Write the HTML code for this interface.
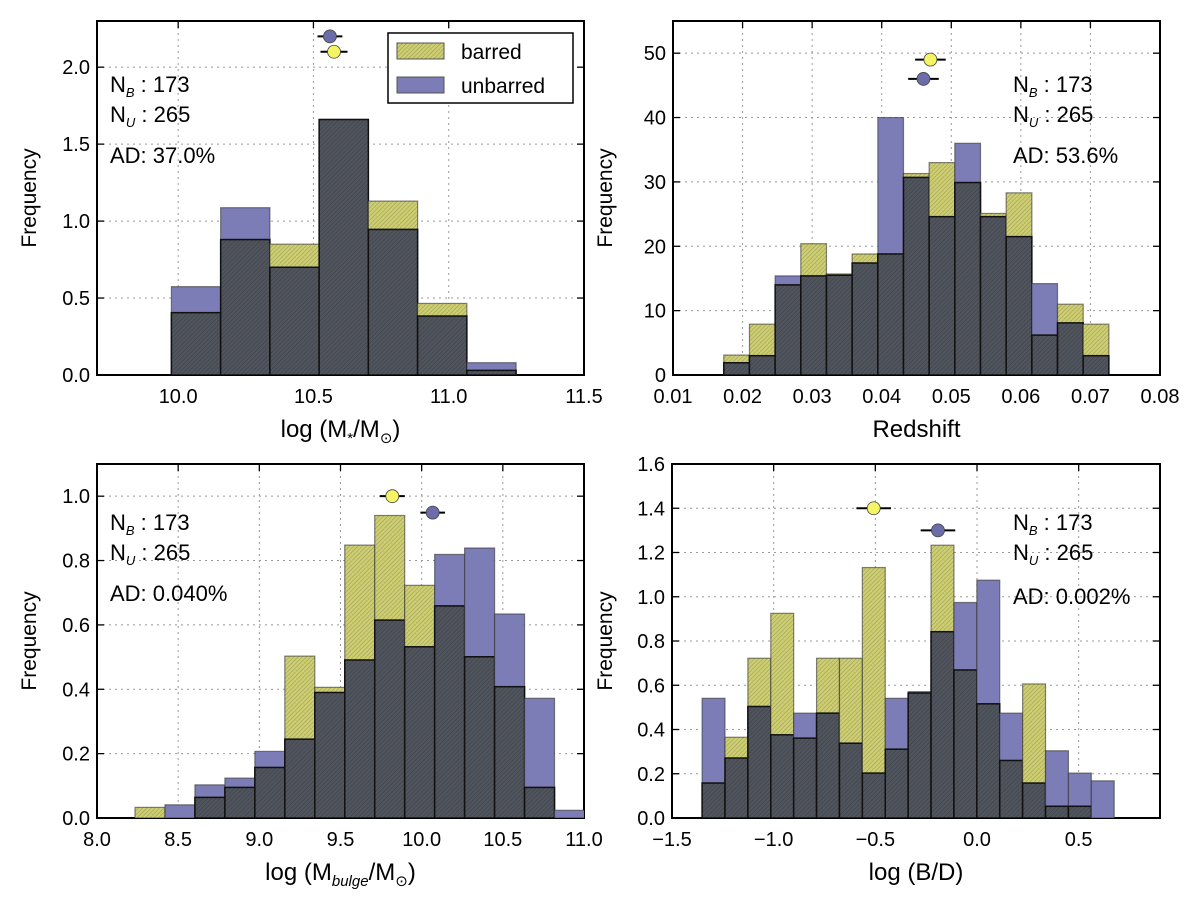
<!DOCTYPE html>
<html><head><meta charset="utf-8"><style>
html,body{margin:0;padding:0;background:#fff;}
svg{display:block;font-family:"Liberation Sans","DejaVu Sans",sans-serif;}
</style></head><body>
<svg id="fig" width="1200" height="910" viewBox="0 0 1200 910" xmlns="http://www.w3.org/2000/svg">
<defs>
<pattern id="hatch" patternUnits="userSpaceOnUse" width="3" height="3" patternTransform="rotate(45)">
<line x1="0" y1="0" x2="0" y2="3" stroke="#000" stroke-opacity="0.25" stroke-width="1"/>
</pattern>
</defs>
</svg>
<script>
// Panel 1: stellar mass
const p1Edges0 = 9.975, p1Width = 0.182;
const p1Barred = [0.405, 0.88, 0.85, 1.66, 1.13, 0.465, 0.03];
const p1Unbarred = [0.574, 1.087, 0.70, 1.66, 0.946, 0.383, 0.08];
const p1XTicks = [10.0, 10.5, 11.0, 11.5];
const p1XTickLabels = ["10.0", "10.5", "11.0", "11.5"];
const p1YTicks = [0, 0.5, 1.0, 1.5, 2.0];
const p1YTickLabels = ["0.0", "0.5", "1.0", "1.5", "2.0"];
const p1Markers = [[10.561, 2.2, 0.046, "unbarred"], [10.576, 2.1, 0.05, "barred"]];
const p1Text = ["173", "265", "AD: 37.0%"];

// Panel 2: redshift
const p2Edges0 = 0.0173, p2Width = 0.00369;
const p2Barred = [3.1, 7.9, 14.0, 20.4, 15.7, 18.8, 18.8, 31.3, 33.0, 29.9, 25.1, 28.3, 6.2, 11.0, 7.9];
const p2Unbarred = [1.9, 3.0, 15.4, 15.4, 15.5, 17.4, 40.0, 30.7, 24.6, 36.0, 24.6, 21.5, 14.2, 8.1, 3.0];
const p2XTicks = [0.01, 0.02, 0.03, 0.04, 0.05, 0.06, 0.07, 0.08];
const p2XTickLabels = ["0.01", "0.02", "0.03", "0.04", "0.05", "0.06", "0.07", "0.08"];
const p2YTicks = [0, 10, 20, 30, 40, 50];
const p2YTickLabels = ["0", "10", "20", "30", "40", "50"];
const p2Markers = [[0.047, 49, 0.0022, "barred"], [0.046, 46, 0.0022, "unbarred"]];
const p2Text = ["173", "265", "AD: 53.6%"];

// Panel 3: bulge mass
const p3Edges0 = 8.234, p3Width = 0.1846;
const p3Barred = [0.033, 0, 0.064, 0.095, 0.157, 0.503, 0.406, 0.848, 0.94, 0.723, 0.659, 0.501, 0.408, 0.095, 0];
const p3Unbarred = [0, 0.041, 0.103, 0.124, 0.207, 0.245, 0.39, 0.491, 0.615, 0.532, 0.819, 0.839, 0.634, 0.372, 0.024];
const p3XTicks = [8.0, 8.5, 9.0, 9.5, 10.0, 10.5, 11.0];
const p3XTickLabels = ["8.0", "8.5", "9.0", "9.5", "10.0", "10.5", "11.0"];
const p3YTicks = [0, 0.2, 0.4, 0.6, 0.8, 1.0];
const p3YTickLabels = ["0.0", "0.2", "0.4", "0.6", "0.8", "1.0"];
const p3Markers = [[9.819, 1.0, 0.077, "barred"], [10.068, 0.949, 0.076, "unbarred"]];
const p3Text = ["173", "265", "AD: 0.040%"];

// Panel 4: B/D
const p4Edges0 = -1.352, p4Width = 0.1126;
const p4Barred = [0.158, 0.365, 0.722, 0.925, 0.361, 0.722, 0.722, 1.132, 0.311, 0.565, 1.233, 0.669, 0.516, 0.26, 0.606, 0.053, 0.053, 0];
const p4Unbarred = [0.541, 0.271, 0.504, 0.376, 0.474, 0.474, 0.338, 0.203, 0.541, 0.571, 0.842, 0.974, 1.075, 0.474, 0.158, 0.304, 0.203, 0.168];
const p4XTicks = [-1.5, -1.0, -0.5, 0.0, 0.5];
const p4XTickLabels = ["\u22121.5", "\u22121.0", "\u22120.5", "0.0", "0.5"];
const p4YTicks = [0, 0.2, 0.4, 0.6, 0.8, 1.0, 1.2, 1.4, 1.6];
const p4YTickLabels = ["0.0", "0.2", "0.4", "0.6", "0.8", "1.0", "1.2", "1.4", "1.6"];
const p4Markers = [[-0.508, 1.4, 0.085, "barred"], [-0.192, 1.3, 0.085, "unbarred"]];
const p4Text = ["173", "265", "AD: 0.002%"];

const NS = "http://www.w3.org/2000/svg";
const svg = document.getElementById("fig");
const BLUE = "#7c7cb6", YEL = "#cdcd72", GRAY = "#50545d";
function mk(tag, attrs, parent) {
  const e = document.createElementNS(NS, tag);
  for (const k in attrs) e.setAttribute(k, attrs[k]);
  (parent || svg).appendChild(e);
  return e;
}

function panel(cfg) {
  const g = mk("g", {});
  
  
  const L = cfg.box[0], T = cfg.box[1], R = cfg.box[2], B = cfg.box[3];
  const xs = v => L + (v - cfg.xr[0]) / (cfg.xr[1] - cfg.xr[0]) * (R - L);
  const ys = v => B - (v - cfg.yr[0]) / (cfg.yr[1] - cfg.yr[0]) * (B - T);
  const clip = mk("clipPath", { id: "clip-" + cfg.name }, g);
  mk("rect", { x: L, y: T, width: R - L, height: B - T }, clip);
  const bars = mk("g", { "clip-path": "url(#clip-" + cfg.name + ")" }, g);
  
  
  cfg.xt.forEach(v => {
    const l = mk("line", { x1: xs(v), x2: xs(v), y1: T, y2: B, stroke: "#999", "stroke-dasharray": "2,4", "stroke-width": 1 }, g);
    
    
  });
  cfg.yt.forEach(v => {
    const l = mk("line", { x1: L, x2: R, y1: ys(v), y2: ys(v), stroke: "#999", "stroke-dasharray": "2,4", "stroke-width": 1 }, g);
    
    
  });
  svg.appendChild(bars);
  for (let i = 0; i < cfg.barred.length; i++) {
    const x0 = xs(cfg.e0 + i * cfg.w), x1 = xs(cfg.e0 + (i + 1) * cfg.w);
    const b = cfg.barred[i], u = cfg.unbarred[i], m = Math.min(b, u);
    if (u > 0) {
      const r = mk("rect", { x: x0, y: ys(u), width: x1 - x0, height: ys(0) - ys(u), fill: BLUE, stroke: "#333", "stroke-opacity": 0.6, "stroke-width": 1.2 }, bars);
      
      
    }
    if (b > 0) {
      const r = mk("rect", { x: x0, y: ys(b), width: x1 - x0, height: ys(0) - ys(b), fill: YEL, stroke: "#333", "stroke-opacity": 0.6, "stroke-width": 1.2 }, bars);
      
      
      mk("rect", { x: x0, y: ys(b), width: x1 - x0, height: ys(0) - ys(b), fill: "url(#hatch)" }, bars);
    }
    if (m > 0) {
      const r = mk("rect", { x: x0, y: ys(m), width: x1 - x0, height: ys(0) - ys(m), fill: GRAY, stroke: "#111", "stroke-width": 1.5 }, bars);
      
      
      mk("rect", { x: x0, y: ys(m), width: x1 - x0, height: ys(0) - ys(m), fill: "url(#hatch)" }, bars);
    }
  }
  cfg.markers.forEach(mm => {
    const cx = xs(mm[0]), cy = ys(mm[1]);
    const mg = mk("g", {}, g);
    
    
    mk("line", { x1: xs(mm[0] - mm[2]), x2: xs(mm[0] + mm[2]), y1: cy, y2: cy, stroke: "#000", "stroke-width": 2 }, mg);
    mk("circle", { cx: cx, cy: cy, r: 6.5, fill: mm[3] === "barred" ? "#f4f466" : "#6c6ca8", stroke: "#444", "stroke-width": 0.8 }, mg);
  });
  const f = mk("rect", { x: L, y: T, width: R - L, height: B - T, fill: "none", stroke: "#000", "stroke-width": 2 }, g);
  
  
  cfg.xt.forEach((v, i) => {
    const x = xs(v);
    mk("line", { x1: x, x2: x, y1: B, y2: B - 7, stroke: "#000", "stroke-width": 1.3 }, g);
    mk("line", { x1: x, x2: x, y1: T, y2: T + 7, stroke: "#000", "stroke-width": 1.3 }, g);
    const t = mk("text", { x: x, y: B + 28, "text-anchor": "middle", "font-size": 20 }, g);
    
    
    t.textContent = cfg.xl[i];
  });
  cfg.yt.forEach((v, i) => {
    const y = ys(v);
    mk("line", { x1: L, x2: L + 7, y1: y, y2: y, stroke: "#000", "stroke-width": 1.3 }, g);
    mk("line", { x1: R, x2: R - 7, y1: y, y2: y, stroke: "#000", "stroke-width": 1.3 }, g);
    const t = mk("text", { x: L - 7, y: y + 7, "text-anchor": "end", "font-size": 20 }, g);
    
    
    t.textContent = cfg.yl[i];
  });
  const yt = mk("text", { x: 0, y: 0, "text-anchor": "middle", "font-size": 21, transform: "translate(" + cfg.ytx + "," + ((T + B) / 2) + ") rotate(-90)" }, g);
  
  
  yt.textContent = "Frequency";
  const xt = mk("text", { x: (L + R) / 2, y: B + 62, "text-anchor": "middle", "font-size": 24 }, g);
  
  
  xt.innerHTML = cfg.xtitle;
  const ax = cfg.ann[0], ay = cfg.ann[1];
  const a1 = mk("text", { x: ax, y: ay, "font-size": 22 }, g);
  
  
  a1.innerHTML = 'N<tspan font-size="13" font-style="italic" dy="5">B</tspan><tspan dy="-5"> : ' + cfg.text[0] + '</tspan>';
  const a2 = mk("text", { x: ax, y: ay + 30, "font-size": 22 }, g);
  
  
  a2.innerHTML = 'N<tspan font-size="13" font-style="italic" dy="5">U</tspan><tspan dy="-5"> : ' + cfg.text[1] + '</tspan>';
  const a3 = mk("text", { x: ax, y: ay + 71 + (cfg.adExtra || 0), "font-size": 22 }, g);
  
  
  a3.textContent = cfg.text[2];
}

panel({ name: "stellar-mass-panel", box: [97, 21, 584, 375], xr: [9.7, 11.5], yr: [0, 2.3],
  e0: p1Edges0, w: p1Width, barred: p1Barred, unbarred: p1Unbarred,
  xt: p1XTicks, xl: p1XTickLabels, yt: p1YTicks, yl: p1YTickLabels, markers: p1Markers, text: p1Text,
  ytx: 36, ann: [110, 92], xtitle: 'log (M<tspan font-size="15" dy="6">*</tspan><tspan dy="-6">/M</tspan><tspan font-size="15" dy="6">\u2299</tspan><tspan dy="-6">)</tspan>' });
panel({ name: "redshift-panel", box: [673, 21, 1160, 375], xr: [0.01, 0.08], yr: [0, 55],
  e0: p2Edges0, w: p2Width, barred: p2Barred, unbarred: p2Unbarred,
  xt: p2XTicks, xl: p2XTickLabels, yt: p2YTicks, yl: p2YTickLabels, markers: p2Markers, text: p2Text,
  ytx: 612, ann: [1013, 92], xtitle: 'Redshift' });
panel({ name: "bulge-mass-panel", box: [97, 464, 584, 818], xr: [8.0, 11.0], yr: [0, 1.1],
  e0: p3Edges0, w: p3Width, barred: p3Barred, unbarred: p3Unbarred,
  xt: p3XTicks, xl: p3XTickLabels, yt: p3YTicks, yl: p3YTickLabels, markers: p3Markers, text: p3Text,
  ytx: 36, ann: [110, 530], xtitle: 'log (M<tspan font-size="15" font-style="italic" dy="6">bulge</tspan><tspan dy="-6">/M</tspan><tspan font-size="15" dy="6">\u2299</tspan><tspan dy="-6">)</tspan>' });
panel({ name: "bulge-disk-ratio-panel", box: [672, 464, 1160, 818], xr: [-1.5, 0.9], yr: [0, 1.6],
  e0: p4Edges0, w: p4Width, barred: p4Barred, unbarred: p4Unbarred,
  xt: p4XTicks, xl: p4XTickLabels, yt: p4YTicks, yl: p4YTickLabels, markers: p4Markers, text: p4Text,
  ytx: 612, ann: [1013, 530], adExtra: 3, xtitle: 'log (B/D)' });

const lg = mk("g", {});


mk("rect", { x: 388, y: 33, width: 185, height: 70, fill: "#fff", stroke: "#000", "stroke-width": 1.5 }, lg);
const e1 = mk("g", {}, lg);


mk("rect", { x: 397, y: 43, width: 47, height: 16, fill: YEL, stroke: "#555" }, e1);
mk("rect", { x: 397, y: 43, width: 47, height: 16, fill: "url(#hatch)" }, e1);
const t1 = mk("text", { x: 461, y: 59, "font-size": 21 }, e1); t1.textContent = "barred";
const e2 = mk("g", {}, lg);


mk("rect", { x: 397, y: 77, width: 47, height: 16, fill: BLUE, stroke: "#555" }, e2);
const t2 = mk("text", { x: 461, y: 93, "font-size": 21 }, e2); t2.textContent = "unbarred";
</script>
</body></html>
